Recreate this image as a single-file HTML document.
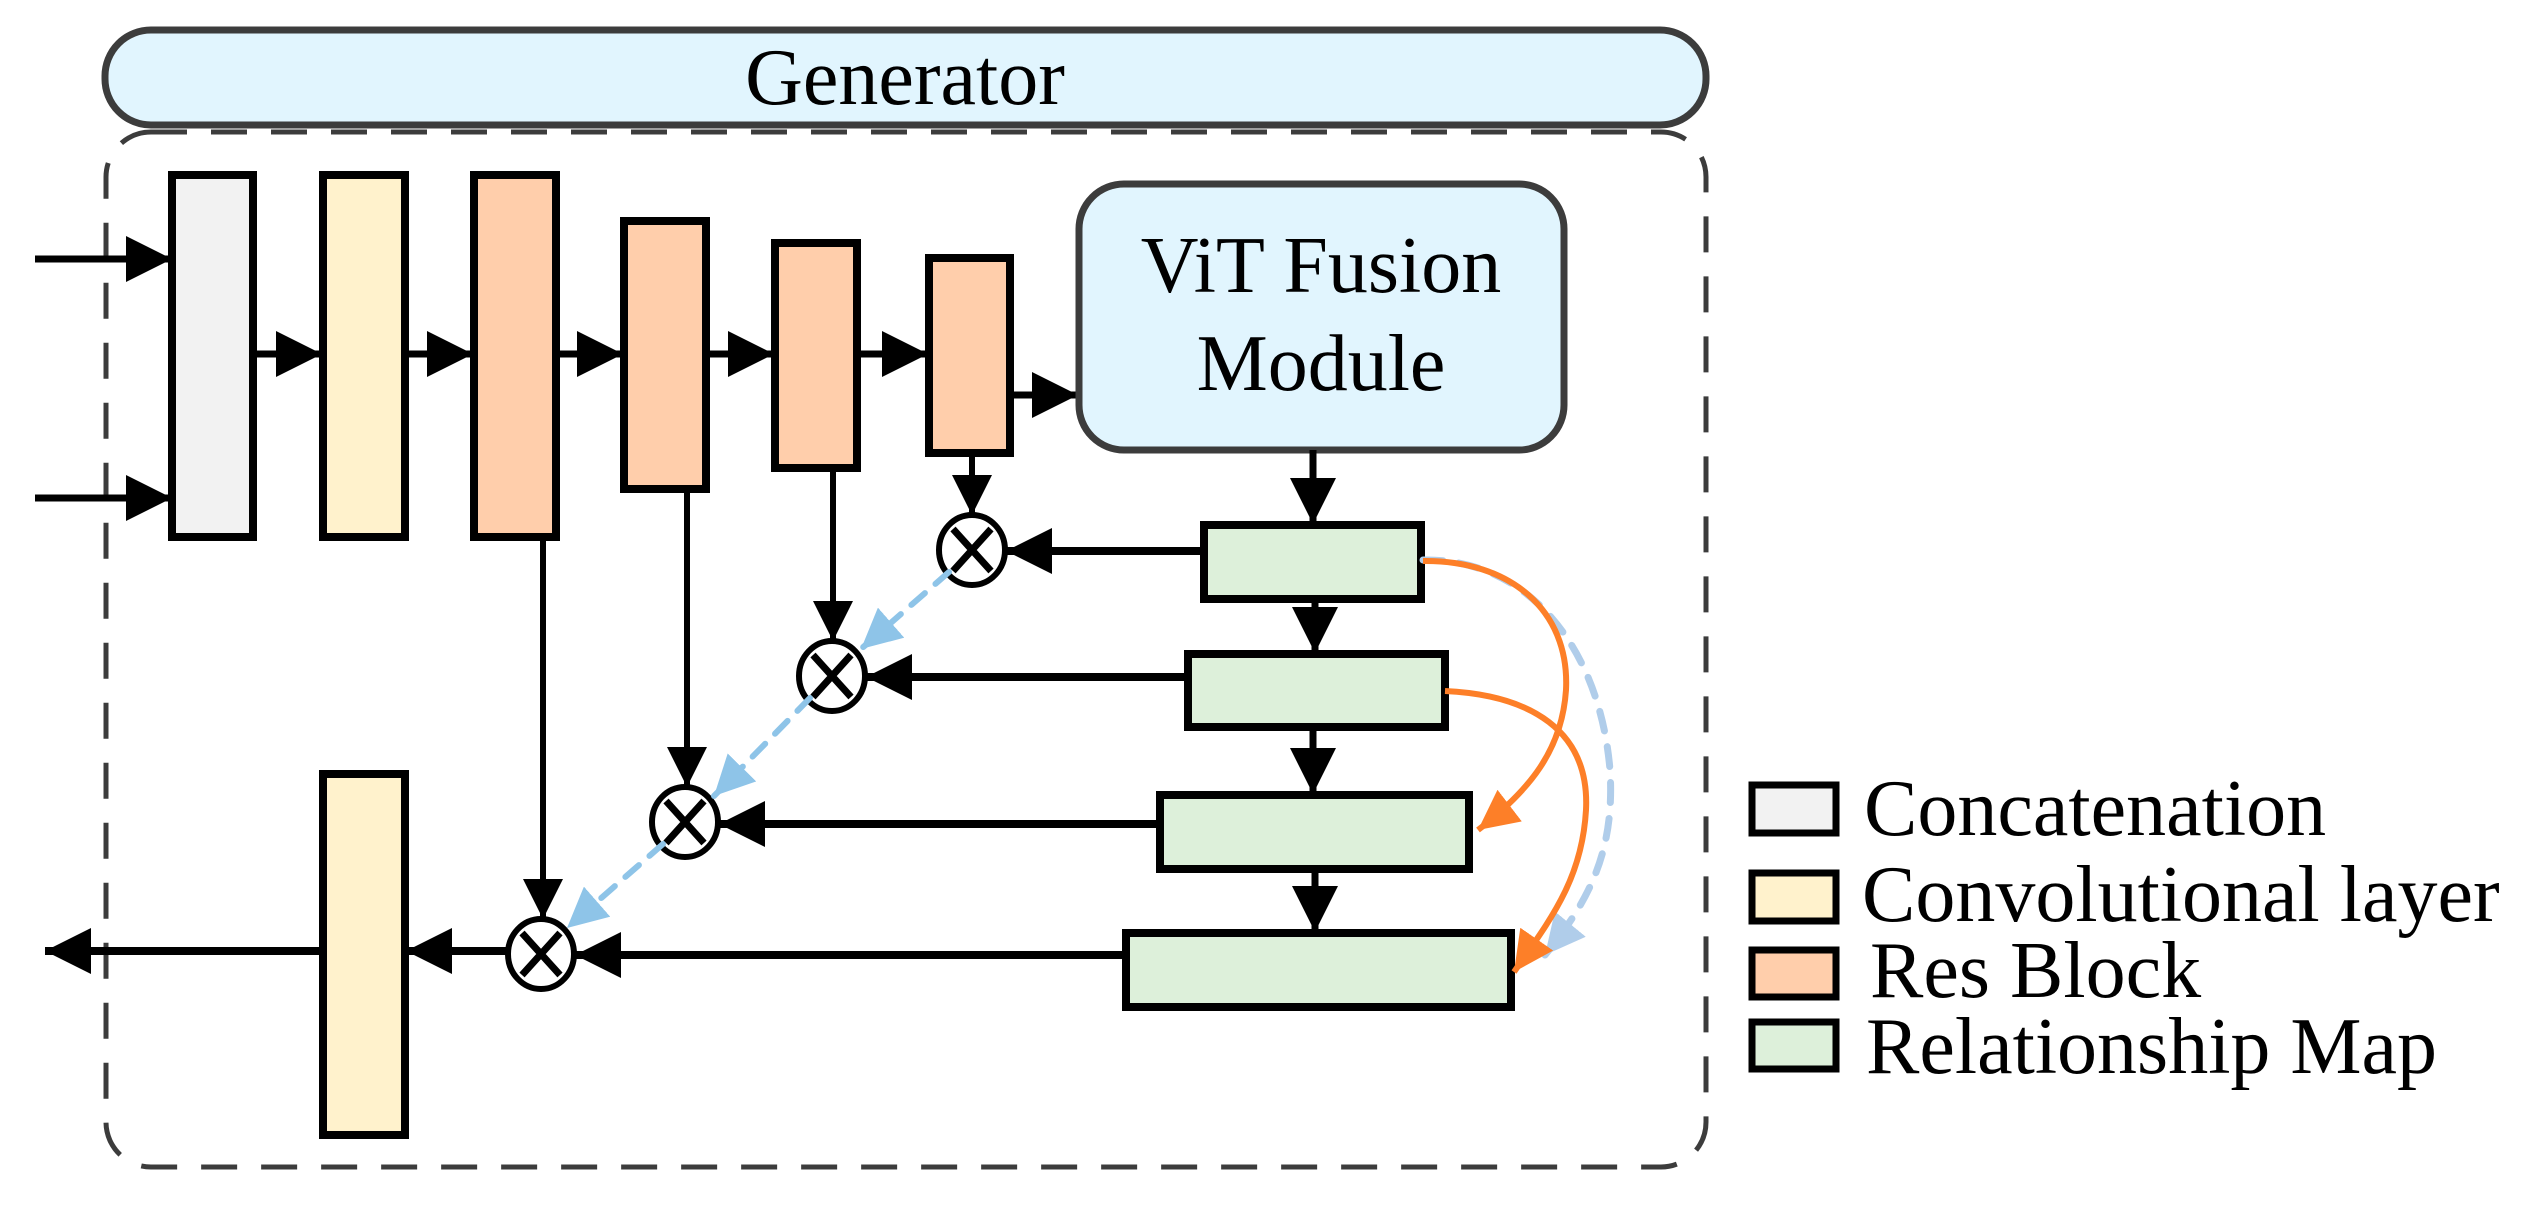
<!DOCTYPE html>
<html><head><meta charset="utf-8"><style>html,body{margin:0;padding:0;background:#fff}svg{display:block}text{font-family:"Liberation Serif","Times New Roman",serif}</style></head>
<body>
<svg width="2543" height="1208" viewBox="0 0 2543 1208" xmlns="http://www.w3.org/2000/svg" style="font-family:'Liberation Serif',serif">
<defs>
<marker id="ab" viewBox="0 0 10 10" refX="10" refY="5" markerWidth="46" markerHeight="46" markerUnits="userSpaceOnUse" orient="auto"><path d="M0,0 L10,5 L0,10 z" fill="#000"/></marker>
<marker id="abs" viewBox="0 0 10 10" refX="10" refY="5" markerWidth="40" markerHeight="40" markerUnits="userSpaceOnUse" orient="auto"><path d="M0,0 L10,5 L0,10 z" fill="#000"/></marker>
<marker id="ao" viewBox="0 0 10 10" refX="10" refY="5" markerWidth="40" markerHeight="40" markerUnits="userSpaceOnUse" orient="auto"><path d="M0,0 L10,5 L0,10 z" fill="#fd7f28"/></marker>
<marker id="al" viewBox="0 0 10 10" refX="10" refY="5" markerWidth="40" markerHeight="40" markerUnits="userSpaceOnUse" orient="auto"><path d="M0,0 L10,5 L0,10 z" fill="#b0cdea"/></marker>
<marker id="al2" viewBox="0 0 10 10" refX="10" refY="5" markerWidth="40" markerHeight="40" markerUnits="userSpaceOnUse" orient="auto"><path d="M0,0 L10,5 L0,10 z" fill="#8ec4e8"/></marker>
</defs>

<rect x="105" y="30" width="1601" height="95" rx="46" fill="#e1f5fe" stroke="#3c3c3c" stroke-width="7"/>
<text x="905" y="104" font-size="80" text-anchor="middle">Generator</text>

<rect x="106" y="132" width="1600" height="1035" rx="45" fill="none" stroke="#3c3c3c" stroke-width="5" stroke-dasharray="36,24"/>

<line x1="35" y1="259" x2="172" y2="259" stroke="#000" stroke-width="7" marker-end="url(#ab)"/>
<line x1="35" y1="498" x2="172" y2="498" stroke="#000" stroke-width="7" marker-end="url(#ab)"/>

<g stroke="#000" stroke-width="8">
<rect x="172" y="175" width="81" height="362" fill="#f2f2f2"/>
<rect x="323" y="175" width="82" height="362" fill="#fff2cc"/>
<rect x="474" y="175" width="82" height="362" fill="#ffceab"/>
<rect x="624" y="221" width="82" height="268" fill="#ffceab"/>
<rect x="775" y="243" width="82" height="225" fill="#ffceab"/>
<rect x="929" y="258" width="81" height="195" fill="#ffceab"/>
</g>

<g stroke="#000" stroke-width="7">
<line x1="253" y1="354" x2="322" y2="354" marker-end="url(#ab)"/>
<line x1="405" y1="354" x2="473" y2="354" marker-end="url(#ab)"/>
<line x1="556" y1="354" x2="623" y2="354" marker-end="url(#ab)"/>
<line x1="706" y1="354" x2="774" y2="354" marker-end="url(#ab)"/>
<line x1="857" y1="354" x2="928" y2="354" marker-end="url(#ab)"/>
<line x1="1010" y1="395" x2="1078" y2="395" marker-end="url(#ab)"/>
</g>

<rect x="1079" y="184" width="485" height="266" rx="45" fill="#e1f5fe" stroke="#3c3c3c" stroke-width="7"/>
<text x="1321" y="292" font-size="80" text-anchor="middle">ViT Fusion</text>
<text x="1321" y="390" font-size="80" text-anchor="middle">Module</text>

<g stroke="#000" stroke-width="8" fill="#ddf0da">
<rect x="1204" y="525" width="217" height="74"/>
<rect x="1188" y="654" width="257" height="73"/>
<rect x="1160" y="795" width="309" height="74"/>
<rect x="1126" y="933" width="385" height="74"/>
</g>

<g stroke="#000" stroke-width="7">
<line x1="1313" y1="450" x2="1313" y2="524" marker-end="url(#ab)"/>
<line x1="1315" y1="599" x2="1315" y2="653" marker-end="url(#ab)"/>
<line x1="1313" y1="727" x2="1313" y2="794" marker-end="url(#ab)"/>
<line x1="1315" y1="869" x2="1315" y2="932" marker-end="url(#ab)"/>
</g>

<g stroke="#000" stroke-width="6" fill="#fff">
<ellipse cx="972" cy="550" rx="33" ry="35"/>
<ellipse cx="832" cy="676" rx="33" ry="35"/>
<ellipse cx="685" cy="822" rx="33" ry="35"/>
<ellipse cx="541" cy="954" rx="33" ry="35"/>
</g>
<g stroke="#000" stroke-width="7">
<path d="M953,529 L991,571 M991,529 L953,571"/>
<path d="M813,655 L851,697 M851,655 L813,697"/>
<path d="M666,801 L704,843 M704,801 L666,843"/>
<path d="M522,933 L560,975 M560,933 L522,975"/>
</g>

<g stroke="#000" stroke-width="6">
<line x1="972" y1="453" x2="972" y2="515" marker-end="url(#abs)"/>
<line x1="833" y1="468" x2="833" y2="641" marker-end="url(#abs)"/>
<line x1="687" y1="489" x2="687" y2="787" marker-end="url(#abs)"/>
<line x1="543" y1="537" x2="543" y2="919" marker-end="url(#abs)"/>
</g>

<g stroke="#000" stroke-width="8">
<line x1="1204" y1="551" x2="1006" y2="551" marker-end="url(#ab)"/>
<line x1="1188" y1="677" x2="866" y2="677" marker-end="url(#ab)"/>
<line x1="1160" y1="824" x2="719" y2="824" marker-end="url(#ab)"/>
<line x1="1126" y1="955" x2="575" y2="955" marker-end="url(#ab)"/>
<line x1="507" y1="951" x2="406" y2="951" marker-end="url(#ab)"/>
<line x1="323" y1="951" x2="45" y2="951" marker-end="url(#ab)"/>
</g>

<rect x="323" y="774" width="82" height="361" fill="#fff2cc" stroke="#000" stroke-width="8"/>

<g stroke="#8ec4e8" stroke-width="6" stroke-dasharray="18,14" fill="none" stroke-linecap="round">
<line x1="949" y1="572" x2="861" y2="649" marker-end="url(#al2)"/>
<line x1="810" y1="698" x2="714" y2="796" marker-end="url(#al2)"/>
<line x1="663" y1="844" x2="567" y2="928" marker-end="url(#al2)"/>
</g>

<path d="M1423,560 C1530,558 1600,650 1610,770 C1615,850 1590,900 1545,955" fill="none" stroke="#b0cdea" stroke-width="7" stroke-dasharray="20,16" stroke-linecap="round" marker-end="url(#al)"/>
<path d="M1423,561 C1510,560 1570,610 1566,690 C1562,750 1530,790 1478,830" fill="none" stroke="#fd7f28" stroke-width="6" marker-end="url(#ao)"/>
<path d="M1445,691 C1530,695 1590,730 1586,810 C1582,880 1550,920 1514,972" fill="none" stroke="#fd7f28" stroke-width="6" marker-end="url(#ao)"/>

<g stroke="#000" stroke-width="7">
<rect x="1752" y="785" width="84" height="48" fill="#f2f2f2"/>
<rect x="1752" y="873" width="84" height="48" fill="#fff2cc"/>
<rect x="1752" y="950" width="84" height="47" fill="#ffceab"/>
<rect x="1752" y="1022" width="84" height="47" fill="#ddf0da"/>
</g>
<g font-size="80">
<text x="1864" y="835">Concatenation</text>
<text x="1862" y="921">Convolutional layer</text>
<text x="1870" y="997">Res Block</text>
<text x="1866" y="1073">Relationship Map</text>
</g>
</svg>
</body></html>
